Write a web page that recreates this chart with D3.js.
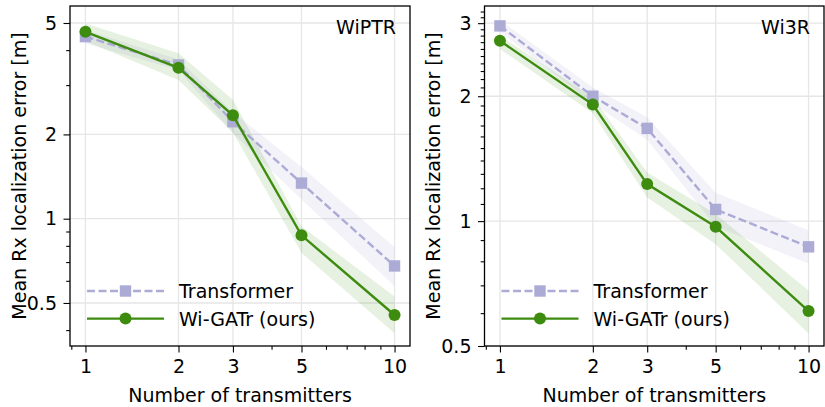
<!DOCTYPE html>
<html>
<head>
<meta charset="utf-8">
<script src="https://cdn.jsdelivr.net/npm/d3@7"></script>
<style>
  body { margin: 0; background: #fff; }
  svg { display: block; font-family: "DejaVu Sans", sans-serif; }
</style>
</head>
<body>
<svg id="chart" width="825" height="407"></svg>
<script>
// Shared x values
var transmitters = [1, 2, 3, 5, 10];
var xTickLabels = [1, 2, 3, 5, 10];

// WiPTR panel
var wiptrTransformer   = [4.47, 3.54, 2.22, 1.34, 0.678];
var wiptrTransformerLo = [4.22, 3.40, 2.02, 1.17, 0.575];
var wiptrTransformerHi = [4.72, 3.70, 2.40, 1.53, 0.79];
var wiptrGatr          = [4.65, 3.46, 2.34, 0.872, 0.453];
var wiptrGatrLo        = [4.30, 3.13, 2.03, 0.755, 0.39];
var wiptrGatrHi        = [4.98, 3.90, 2.66, 0.94, 0.527];
var wiptrYTicks = [0.5, 1, 2, 5];

// Wi3R panel
var wi3rTransformer   = [2.955, 2.0, 1.673, 1.067, 0.867];
var wi3rTransformerLo = [2.86, 1.92, 1.57, 0.97, 0.79];
var wi3rTransformerHi = [3.05, 2.10, 1.78, 1.17, 0.95];
var wi3rGatr          = [2.72, 1.91, 1.228, 0.969, 0.607];
var wi3rGatrLo        = [2.60, 1.82, 1.14, 0.88, 0.536];
var wi3rGatrHi        = [2.80, 1.99, 1.31, 1.04, 0.68];
var wi3rYTicks = [0.5, 1, 2, 3];

var colTrans = "#acabd6",
    colGatr = "#3d8c10",
    fontSize = "19px";

var svg = d3.select("#chart");

function drawPanel(opts) {
    var left = opts.left, right = opts.right, top = 6, bottom = 346;

    var x = d3.scaleLog()
        .domain([Math.pow(10, -0.05), Math.pow(10, 1.05)])
        .range([left, right]);
    var y = d3.scaleLog()
        .domain(opts.yDomain)
        .range([bottom, top]);

    var g = svg.append("g");

    // Grid lines at labelled ticks
    g.selectAll(".gx").data(xTickLabels).enter().append("line")
        .attr("x1", function (d) { return x(d); })
        .attr("x2", function (d) { return x(d); })
        .attr("y1", top).attr("y2", bottom)
        .style("stroke", "#e6e6e6").style("stroke-width", 1.3);
    g.selectAll(".gy").data(opts.yTicks).enter().append("line")
        .attr("y1", function (d) { return y(d); })
        .attr("y2", function (d) { return y(d); })
        .attr("x1", left).attr("x2", right)
        .style("stroke", "#e6e6e6").style("stroke-width", 1.3);

    // Series: transformer first, ours on top
    var series = [
        { mean: opts.trans, lo: opts.transLo, hi: opts.transHi, color: colTrans, dash: "8,3.5", marker: "square" },
        { mean: opts.gatr, lo: opts.gatrLo, hi: opts.gatrHi, color: colGatr, dash: null, marker: "circle" }
    ];

    var clip = "clip_" + opts.name;
    svg.append("clipPath").attr("id", clip)
        .append("rect").attr("x", left).attr("y", top)
        .attr("width", right - left).attr("height", bottom - top);

    var plot = g.append("g").attr("clip-path", "url(#" + clip + ")");

    series.forEach(function (s) {
        var pts = transmitters.map(function (t, i) {
            return { x: t, m: s.mean[i], lo: s.lo[i], hi: s.hi[i] };
        });
        var area = d3.area()
            .x(function (d) { return x(d.x); })
            .y0(function (d) { return y(d.lo); })
            .y1(function (d) { return y(d.hi); });
        plot.append("path").datum(pts)
            .attr("d", area)
            .style("fill", s.color)
            .style("fill-opacity", s.marker === "circle" ? 0.12 : 0.15)
            .style("stroke", "none");
    });

    series.forEach(function (s) {
        var pts = transmitters.map(function (t, i) { return { x: t, m: s.mean[i] }; });
        var line = d3.line()
            .x(function (d) { return x(d.x); })
            .y(function (d) { return y(d.m); });
        plot.append("path").datum(pts)
            .attr("d", line)
            .style("fill", "none")
            .style("stroke", s.color)
            .style("stroke-width", 2.4)
            .style("stroke-dasharray", s.dash);
        if (s.marker === "square") {
            plot.selectAll(".sq").data(pts).enter().append("rect")
                .attr("x", function (d) { return x(d.x) - 5.7; })
                .attr("y", function (d) { return y(d.m) - 5.7; })
                .attr("width", 11.4).attr("height", 11.4)
                .style("fill", s.color);
        } else {
            plot.selectAll(".ci").data(pts).enter().append("circle")
                .attr("cx", function (d) { return x(d.x); })
                .attr("cy", function (d) { return y(d.m); })
                .attr("r", 6)
                .style("fill", s.color);
        }
    });

    // Frame
    g.append("rect")
        .attr("x", left).attr("y", top)
        .attr("width", right - left).attr("height", bottom - top)
        .style("fill", "none").style("stroke", "#000").style("stroke-width", 1.3);

    // X axis
    var xAxis = d3.axisBottom(x)
        .tickValues(xTickLabels)
        .tickFormat(d3.format("d"))
        .tickSize(6.5).tickPadding(7);
    var xMinor = d3.axisBottom(x)
        .tickValues([0.9, 4, 6, 7, 8, 9])
        .tickFormat("")
        .tickSize(3.8);
    g.append("g").attr("transform", "translate(0," + bottom + ")").call(xAxis);
    g.append("g").attr("transform", "translate(0," + bottom + ")").call(xMinor);

    // Y axis
    var yAxis = d3.axisLeft(y)
        .tickValues(opts.yTicks)
        .tickFormat(function (d) { return d < 1 ? d3.format(".1f")(d) : d3.format("d")(d); })
        .tickSize(6.5).tickPadding(6.5);
    var yMinor = d3.axisLeft(y)
        .tickValues(opts.yMinor)
        .tickFormat("")
        .tickSize(3.8);
    g.append("g").attr("transform", "translate(" + left + ",0)").call(yAxis);
    g.append("g").attr("transform", "translate(" + left + ",0)").call(yMinor);

    g.selectAll(".domain").remove();
    g.selectAll(".tick line").style("stroke", "#000").style("stroke-width", 1.1);
    g.selectAll(".tick text")
        .style("font-family", "DejaVu Sans")
        .style("font-size", fontSize)
        .style("fill", "#000");

    // Axis labels
    g.append("text")
        .attr("x", (left + right) / 2).attr("y", 402)
        .attr("text-anchor", "middle")
        .style("font-size", fontSize)
        .text("Number of transmitters");
    g.append("text")
        .attr("transform", "translate(" + opts.ylabelX + "," + (top + bottom) / 2 + ") rotate(-90)")
        .attr("text-anchor", "middle")
        .attr("dy", "0.35em")
        .style("font-size", fontSize)
        .text("Mean Rx localization error [m]");

    // Panel title
    g.append("text")
        .attr("x", right - 14).attr("y", 34)
        .attr("text-anchor", "end")
        .style("font-size", fontSize)
        .text(opts.name);

    // Legend (no frame)
    var legend = [
        { key: "Transformer", color: colTrans, dash: "8,3.5", marker: "square" },
        { key: "Wi-GATr (ours)", color: colGatr, dash: null, marker: "circle" }
    ];
    var lx = left + 17, ly = 291;
    legend.forEach(function (d, i) {
        var yy = ly + i * 27.6;
        g.append("line")
            .attr("x1", lx).attr("x2", lx + 77)
            .attr("y1", yy).attr("y2", yy)
            .style("stroke", d.color).style("stroke-width", 2.4)
            .style("stroke-dasharray", d.dash);
        if (d.marker === "square") {
            g.append("rect").attr("x", lx + 38.5 - 5.7).attr("y", yy - 5.7)
                .attr("width", 11.4).attr("height", 11.4).style("fill", d.color);
        } else {
            g.append("circle").attr("cx", lx + 38.5).attr("cy", yy).attr("r", 6)
                .style("fill", d.color);
        }
        g.append("text")
            .attr("x", lx + 92).attr("y", yy + 7)
            .style("font-size", fontSize)
            .text(d.key);
    });
}

drawPanel({
    name: "WiPTR", left: 70, right: 410, ylabelX: 19,
    yDomain: [0.351, 5.75], yTicks: wiptrYTicks,
    yMinor: [0.4, 0.6, 0.7, 0.8, 0.9, 3, 4],
    trans: wiptrTransformer, transLo: wiptrTransformerLo, transHi: wiptrTransformerHi,
    gatr: wiptrGatr, gatrLo: wiptrGatrLo, gatrHi: wiptrGatrHi
});

drawPanel({
    name: "Wi3R", left: 484.5, right: 824, ylabelX: 433,
    yDomain: [0.5, 3.30], yTicks: wi3rYTicks,
    yMinor: d3.range(6, 33).map(function (v) { return v / 10; })
        .filter(function (v) { return wi3rYTicks.indexOf(v) < 0; }),
    trans: wi3rTransformer, transLo: wi3rTransformerLo, transHi: wi3rTransformerHi,
    gatr: wi3rGatr, gatrLo: wi3rGatrLo, gatrHi: wi3rGatrHi
});
</script>
</body>
</html>
